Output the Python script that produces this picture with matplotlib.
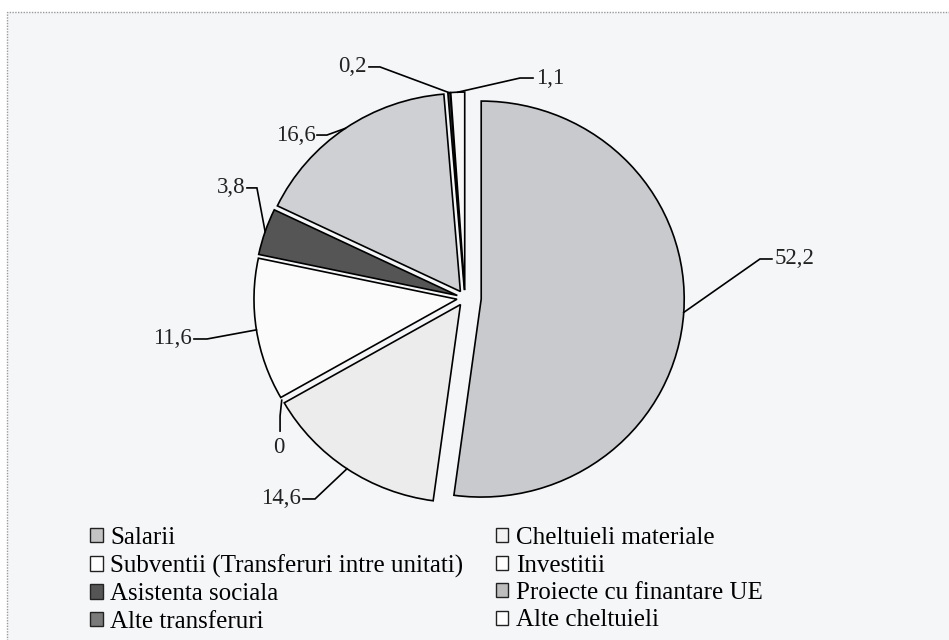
import numpy as np
import matplotlib.pyplot as plt
from matplotlib.patches import Rectangle, Patch

# =========================
# Data
# =========================
categories = [
    "Salarii",
    "Cheltuieli materiale",
    "Subventii (Transferuri intre unitati)",
    "Investitii",
    "Asistenta sociala",
    "Proiecte cu finantare UE",
    "Alte transferuri",
    "Alte cheltuieli",
]
values = [52.2, 14.6, 0.0, 11.6, 3.8, 16.6, 0.2, 1.1]
label_texts = ["52,2", "14,6", "0", "11,6", "3,8", "16,6", "0,2", "1,1"]

# =========================
# Style
# =========================
colors = ["#c9cacd", "#ececec", "#ffffff", "#fbfbfb", "#555555", "#cfd0d3", "#3a3a3a", "#f7f7f7"]
legend_colors = ["#c4c4c4", "#f2f2f2", "#ffffff", "#ffffff", "#555555", "#bdbdbd", "#7a7a7a", "#ffffff"]
explode = [0.08, 0.04, 0.04, 0.04, 0.04, 0.04, 0.04, 0.04]

# leader line layout (data units): elbow, end of line, text position, alignment
leaders = [
    ((1.453, 0.197), (1.512, 0.197), (1.527, 0.197), "left", "center"),
    ((-0.739, -1.015), (-0.798, -1.015), (-0.808, -1.015), "right", "center"),
    ((-0.911, -0.596), (-0.911, -0.672), (-0.916, -0.753), "center", "center"),
    ((-1.271, -0.207), (-1.335, -0.207), (-1.345, -0.207), "right", "center"),
    ((-1.025, 0.556), (-1.074, 0.556), (-1.079, 0.556), "right", "center"),
    ((-0.680, 0.823), (-0.729, 0.823), (-0.734, 0.823), "right", "center"),
    ((-0.419, 1.167), (-0.473, 1.167), (-0.483, 1.167), "right", "center"),
    ((0.271, 1.111), (0.335, 1.111), (0.350, 1.111), "left", "center"),
]

plt.rcParams["font.family"] = ["Liberation Serif", "DejaVu Serif"]

W, H = 949, 640
fig = plt.figure(figsize=(W / 100, H / 100), dpi=100)
fig.patch.set_facecolor("white")

# scanned page frame
frame = Rectangle((7 / W, -0.05), 1.1, 1 - 12 / H + 0.05, transform=fig.transFigure,
                  facecolor="#f5f6f8", edgecolor="#9a9a9a", linestyle=(0, (1, 1)),
                  linewidth=1.0, zorder=-10)
fig.patches.append(frame)

ax = fig.add_axes([0, 0, 1, 1], zorder=1)
ax.patch.set_alpha(0)

wedges, _ = ax.pie(values, colors=colors, explode=explode, startangle=90, counterclock=False,
                   wedgeprops=dict(edgecolor="black", linewidth=1.2))
for w, v in zip(wedges, values):
    if v == 0:
        w.set_linewidth(0)

# pie centre at (465, 298) px, radius ~203 x 198 px
cx, cy, rx, ry = 465, 298, 203, 198
ax.set_aspect("auto")
ax.set_xlim(-cx / rx, (W - cx) / rx)
ax.set_ylim(-(H - cy) / ry, cy / ry)
ax.axis("off")

for w, txt, (elbow, end, tpos, ha, va) in zip(wedges, label_texts, leaders):
    ang = np.deg2rad((w.theta1 + w.theta2) / 2)
    x0 = w.center[0] + w.r * np.cos(ang)
    y0 = w.center[1] + w.r * np.sin(ang)
    ax.plot([x0, elbow[0], end[0]], [y0, elbow[1], end[1]], color="black", lw=1.2,
            solid_joinstyle="miter", zorder=5)
    ax.text(tpos[0], tpos[1], txt, ha=ha, va=va, fontsize=16.5, color="#222222")

# legend: two columns, filled row-wise
handles = [Patch(facecolor=c, edgecolor="#222222", linewidth=1.0) for c in legend_colors]

leg_kw = dict(loc="upper left", frameon=False, fontsize=18, handlelength=0.5, handleheight=0.5,
              handletextpad=0.3, labelspacing=0.22, borderpad=0, borderaxespad=0,
              bbox_transform=fig.transFigure)
leg1 = ax.legend([handles[i] for i in (0, 2, 4, 6)], [categories[i] for i in (0, 2, 4, 6)],
                 bbox_to_anchor=(90 / W, 1 - 527 / H), **leg_kw)
ax.add_artist(leg1)
ax.legend([handles[i] for i in (1, 3, 5, 7)], [categories[i] for i in (1, 3, 5, 7)],
          bbox_to_anchor=(496 / W, 1 - 527 / H), **leg_kw)

fig.savefig("out.png", dpi=100, facecolor=fig.get_facecolor())
